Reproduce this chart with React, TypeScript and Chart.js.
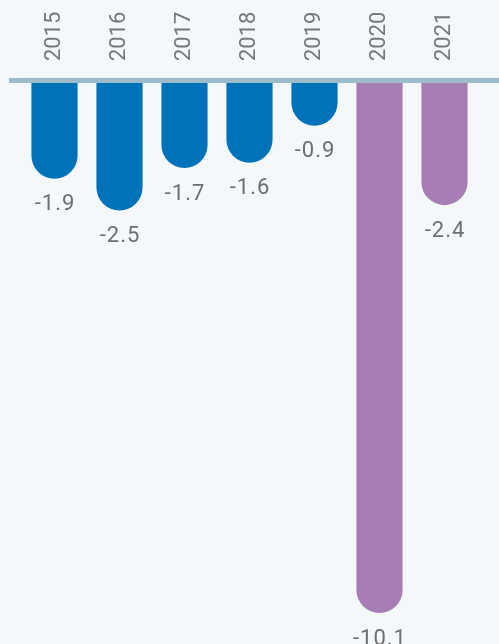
import React, { useEffect, useRef } from "react";
import { Chart, registerables } from "chart.js";

Chart.register(...registerables);

const years: string[] = ["2015", "2016", "2017", "2018", "2019", "2020", "2021"];
const values: number[] = [-1.9, -2.5, -1.7, -1.6, -0.9, -10.1, -2.4];
const highlightYears: string[] = ["2020", "2021"];

const BLUE = "#0072b9";
const PURPLE = "#a67db5";
const LINE = "#9dbccb";
const BG = "#f4f8fb";
const TEXT = "#6e6e6e";
const YEAR_FONT = 22;

const zeroLinePlugin = {
  id: "zeroLine",
  afterDatasetsDraw(chart: any) {
    const ctx = chart.ctx;
    const y = chart.scales.y.getPixelForValue(0);
    ctx.save();
    ctx.fillStyle = LINE;
    ctx.fillRect(9, y, chart.width - 9, 5);
    ctx.restore();
  },
};

const valueLabelPlugin = {
  id: "valueLabels",
  afterDatasetsDraw(chart: any) {
    const ctx = chart.ctx;
    const meta = chart.getDatasetMeta(0);
    ctx.save();
    ctx.fillStyle = TEXT;
    ctx.font = "400 22px Roboto";
    (ctx as any).letterSpacing = "1px";
    ctx.textAlign = "center";
    ctx.textBaseline = "middle";
    meta.data.forEach((bar: any, i: number) => {
      const v = values[i];
      ctx.fillText(v.toFixed(1), bar.x + 0.5, bar.y + 26);
    });
    ctx.restore();
  },
};

export default function App() {
  const ref = useRef<HTMLCanvasElement | null>(null);

  useEffect(() => {
    if (!ref.current) return;
    const chart = new Chart(ref.current, {
      type: "bar",
      data: {
        labels: years,
        datasets: [
          {
            data: values,
            backgroundColor: (c: any) =>
              highlightYears.includes(years[c.dataIndex]) ? PURPLE : BLUE,
            borderRadius: 100,
            borderSkipped: "start",
            barPercentage: 0.71,
            categoryPercentage: 1,
          },
        ],
      },
      options: {
        animation: false,
        responsive: true,
        maintainAspectRatio: false,
        layout: { padding: { left: 22, right: 22, top: 0, bottom: 31 } },
        plugins: {
          legend: { display: false },
          tooltip: { enabled: false },
        },
        scales: {
          x: {
            position: "top",
            grid: { display: false, drawTicks: false },
            border: { display: false },
            afterFit: (scale: any) => {
              scale.height = 78;
            },
            ticks: {
              minRotation: 90,
              maxRotation: 90,
              padding: 17,
              labelOffset: YEAR_FONT * 1.2,
              color: "#777777",
              font: { family: "Roboto", size: YEAR_FONT },
            },
          },
          y: {
            display: false,
            min: -10.1,
            max: 0,
          },
        },
      },
      plugins: [zeroLinePlugin, valueLabelPlugin],
    });
    return () => chart.destroy();
  }, []);

  return (
    <div
      style={{
        position: "absolute",
        left: 0,
        top: 0,
        width: 499,
        height: 644,
        background: BG,
      }}
    >
      <canvas ref={ref} />
    </div>
  );
}
